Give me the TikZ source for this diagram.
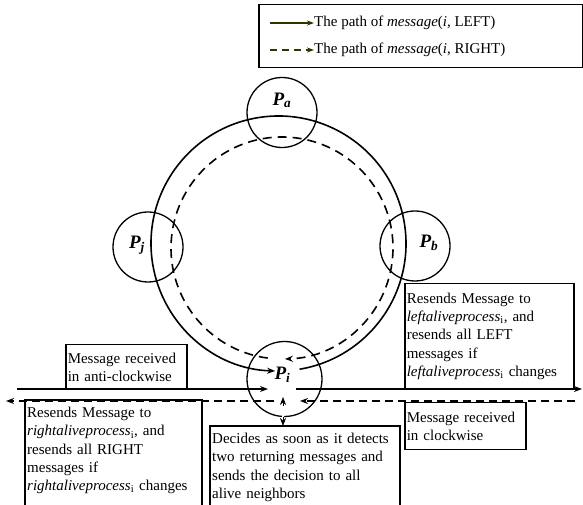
\documentclass[tikz,border=0pt]{standalone}
\usepackage{fontspec}
\setmainfont{Liberation Serif}
\usetikzlibrary{arrows.meta, calc}
\definecolor{legline}{HTML}{333300}
\tikzset{
  pcirc/.style={draw, circle, line width=1.3pt, minimum size=70pt, inner sep=0pt},
  plab/.style={font=\fontsize{19}{19}\selectfont\bfseries\itshape, inner sep=0pt},
  txtbox/.style={draw, line width=1.5pt, align=left, anchor=north west,
                 inner xsep=2pt, inner ysep=0pt, font=\fontsize{15}{18.3}\selectfont},
  opentxt/.style={align=left, anchor=north west, inner xsep=2pt, inner ysep=7pt,
                  font=\fontsize{15}{18.3}\selectfont},
  boxline/.style={line width=1.5pt},
  ring/.style={line width=1.6pt},
  dring/.style={line width=1.6pt, dash pattern=on 9pt off 6pt},
  tip/.style={-{Stealth[length=8pt,width=6pt]}},
  legtip/.style={-{Stealth[length=7pt,width=5pt]}, line width=1.3pt, legline},
  uptip/.style={-{Stealth[length=8pt,width=6pt]}, line width=0.6pt},
}

\begin{document}
\begin{tikzpicture}[x=1pt, y=1pt]
  \useasboundingbox (0,0) rectangle (583,505);
  \clip (0,0) rectangle (583,505);

  % legend
  \node[draw, line width=1.5pt, anchor=north west, minimum width=324pt,
        minimum height=63pt] (leg) at (258,501) {};
  \node[anchor=west, inner sep=0pt, font=\fontsize{15}{18}\selectfont] (legL) at (314,482)
    {The path of \textit{message}(\textit{i}, LEFT)};
  \node[anchor=west, inner sep=0pt, font=\fontsize{15}{18}\selectfont] (legR) at (314,455)
    {The path of \textit{message}(\textit{i}, RIGHT)};
  \draw[legtip] ($(legL.west)+(-44,0)$) -- (legL.west);
  \draw[legtip, dash pattern=on 7pt off 5pt] ($(legR.west)+(-44,0)$) -- (legR.west);

  % processes
  \node[pcirc] (pa) at (282,392.5) {};
  \node[pcirc] (pj) at (148,258) {};
  \node[pcirc] (pb) at (415,259) {};
  \node[pcirc, minimum size=75pt] (pi) at (284.5,126) {};
  \node[plab] (la) at ($(pa)+(0,12)$) {P\textsubscript{a}};
  \node[plab] (lj) at ($(pj)+(-11,2)$) {P\textsubscript{j}};
  \node[plab] (lb) at ($(pb)+(14,3)$) {P\textsubscript{b}};
  \node[plab] (li) at ($(pi)+(-2,4)$) {P\textsubscript{i}};

  % the two rings
  \coordinate (ringc) at (278.5,261.5);
  \coordinate (dringc) at (282,257);
  \draw[ring, tip] ($(ringc)+(-80.5:127.5)$) arc[start angle=-80.5, end angle=268.5, radius=127.5];
  \draw[dring, tip] ($(dringc)+(262.6:111)$) arc[start angle=262.6, end angle=-88.5, radius=111];

  % lines through P_i
  \coordinate (sL) at (17,116);
  \coordinate (sR) at (582,116);
  \coordinate (dL) at (6,104);
  \coordinate (dR) at (575,104);
  \coordinate (sIn) at ($(pi)+(-16.5,-10)$);
  \coordinate (sOut) at ($(pi)+(11.5,-10)$);
  \coordinate (dIn) at ($(pi)+(15.5,-22)$);
  \coordinate (dOut) at ($(pi)+(-10.5,-22)$);
  \coordinate (piUp) at ($(pi)+(-1.5,-18)$);
  \draw[ring, tip] (sL) -- (sIn);
  \draw[ring, tip] (sOut) -- (sR);
  \draw[ring, tip, dash pattern=on 8pt off 5pt] (dR) -- (dIn);
  \draw[ring, tip, dash pattern=on 8pt off 5pt] (dOut) -- (dL);

  % text boxes
  \node[txtbox, text width=117pt, minimum height=45pt] (acw) at (65,161)
    {Message received\\in anti-clockwise};
  \node[txtbox, text width=117pt, minimum height=47pt] (cw) at (404,103)
    {Message received\\in clockwise};
  \node[txtbox, text width=165pt, minimum height=105pt] (lres) at (404,222)
    {Resends Message to\\\textit{leftaliveprocess}\textsubscript{i}, and\\resends all LEFT\\messages if\\\textit{leftaliveprocess}\textsubscript{i} changes};
  \node[opentxt, text width=173pt] (rres) at (25,105)
    {Resends Message to\\\textit{rightaliveprocess}\textsubscript{i}, and\\resends all RIGHT\\messages if\\\textit{rightaliveprocess}\textsubscript{i} changes};
  \node[opentxt, text width=186pt] (dec) at (210,79)
    {Decides as soon as it detects\\two returning messages and\\sends the decision to all\\alive neighbors};
  \draw[boxline] ($(rres.north west)+(0,-130)$) -- (rres.north west)
    -- ($(rres.north west)+(177,0)$) -- ++(0,-130);
  \draw[boxline] ($(dec.north west)+(0,-110)$) -- (dec.north west)
    -- ($(dec.north west)+(190,0)$) -- ++(0,-110);

  % decision link
  \coordinate (decUp) at (piUp |- dec.north);
  \draw[double, double distance=1.2pt, line width=0.6pt]
    ($(decUp)+(0,5)$) -- ($(piUp)+(0,-5)$);
  \draw[uptip] ($(piUp)+(0,-9)$) -- (piUp);
  \draw[uptip] ($(decUp)+(0,9)$) -- (decUp);
\end{tikzpicture}
\end{document}
